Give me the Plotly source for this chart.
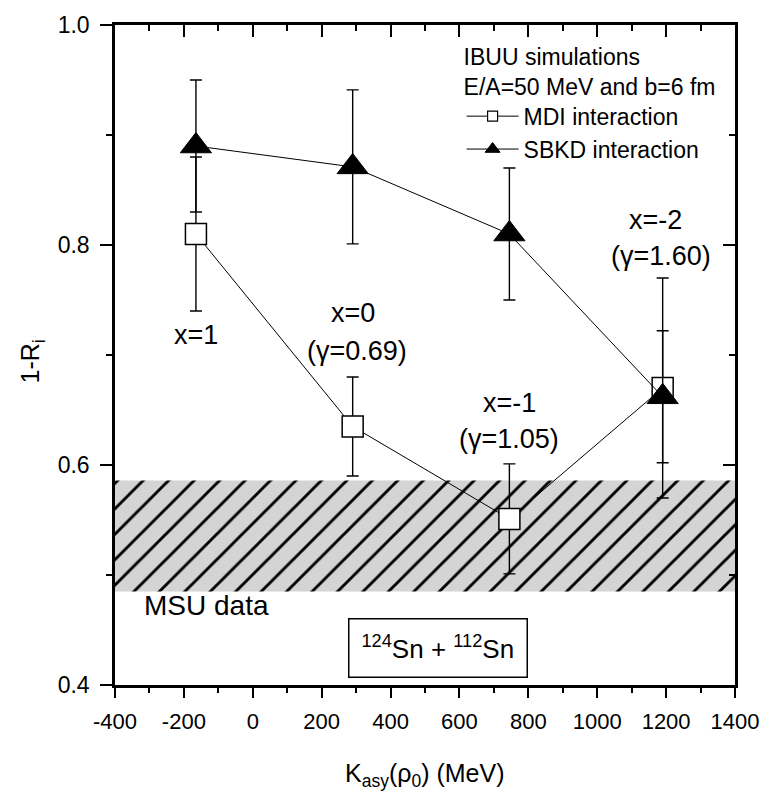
import plotly.graph_objects as go

# K_asy(rho0) in MeV for x = 1, 0, -1, -2
k_asy = [-165, 290, 745, 1190]

# 1 - R_i from IBUU with the two interactions
mdi_vals = [0.81, 0.635, 0.551, 0.67]
mdi_errs = [0.07, 0.045, 0.05, 0.10]
sbkd_vals = [0.89, 0.871, 0.81, 0.662]
sbkd_errs = [0.06, 0.07, 0.06, 0.06]

# MSU measurement band
msu_low = 0.485
msu_high = 0.586

x_range = [-400, 1400]
y_range = [0.4, 1.0]
x_ticks = [-400, -200, 0, 200, 400, 600, 800, 1000, 1200, 1400]
y_ticks = [0.4, 0.6, 0.8, 1.0]

# labels of the x (gamma) parameter next to the points
param_labels = [
    ("x=1", -165, 0.718),
    ("x=0", 290, 0.738),
    ("(\u03b3=0.69)", 302, 0.704),
    ("x=-1", 745, 0.656),
    ("(\u03b3=1.05)", 745, 0.624),
    ("x=-2", 1170, 0.823),
    ("(\u03b3=1.60)", 1185, 0.790),
]

FONT = "Liberation Sans, Arial, sans-serif"

fig = go.Figure()

# hatched MSU band on the base axes
fig.add_trace(go.Scatter(
    x=[x_range[0], x_range[1], x_range[1], x_range[0], x_range[0]],
    y=[msu_low, msu_low, msu_high, msu_high, msu_low],
    mode="lines", line=dict(width=0), fill="toself",
    fillcolor="rgba(0,0,0,0)",
    fillpattern=dict(shape="/", size=18, solidity=0.16,
                     fgcolor="black", bgcolor="#d4d4d4", fillmode="replace"),
    showlegend=False, hoverinfo="skip",
))

fig.add_trace(go.Scatter(
    x=k_asy, y=mdi_vals, xaxis="x2", yaxis="y2",
    mode="lines+markers", name="MDI interaction", showlegend=False,
    line=dict(color="black", width=1),
    marker=dict(symbol="square", size=21, color="white",
                line=dict(color="black", width=1.5)),
    error_y=dict(type="data", array=mdi_errs, color="black",
                 thickness=1.4, width=6),
))

fig.add_trace(go.Scatter(
    x=k_asy, y=sbkd_vals, xaxis="x2", yaxis="y2",
    mode="lines+markers", name="SBKD interaction", showlegend=False,
    line=dict(color="black", width=1),
    marker=dict(symbol="triangle-up", size=27, color="black",
                line=dict(color="black", width=1)),
    error_y=dict(type="data", array=sbkd_errs, color="black",
                 thickness=1.4, width=6),
))

# legend entries with small symbols
fig.add_trace(go.Scatter(
    x=[None], y=[None], xaxis="x2", yaxis="y2",
    mode="lines+markers", name="MDI interaction",
    line=dict(color="black", width=1),
    marker=dict(symbol="square", size=10, color="white",
                line=dict(color="black", width=1.2)),
))
fig.add_trace(go.Scatter(
    x=[None], y=[None], xaxis="x2", yaxis="y2",
    mode="lines+markers", name="SBKD interaction",
    line=dict(color="black", width=1),
    marker=dict(symbol="triangle-up", size=13, color="black",
                line=dict(color="black", width=1)),
))

for text, xv, yv in param_labels:
    fig.add_annotation(x=xv, y=yv, xref="x2", yref="y2", text=text,
                       showarrow=False, font=dict(family=FONT, size=27, color="black"))

fig.add_annotation(x=-323, y=0.4725, xref="x", yref="y", text="MSU data",
                   xanchor="left", showarrow=False,
                   font=dict(family=FONT, size=28, color="black"))

fig.add_annotation(x=538, y=0.434, xref="x", yref="y",
                   text="<sup>124</sup>Sn + <sup>112</sup>Sn",
                   showarrow=False, bordercolor="black", borderwidth=1.5,
                   borderpad=12, bgcolor="white",
                   font=dict(family=FONT, size=26, color="black"))

# axis titles
fig.add_annotation(x=0.5, y=-0.137, xref="paper", yref="paper",
                   xanchor="center", yanchor="middle",
                   text="K<sub>asy</sub>(\u03c1<sub>0</sub>) (MeV)",
                   showarrow=False, font=dict(family=FONT, size=25, color="black"))
fig.add_annotation(x=-0.134, y=0.49, xref="paper", yref="paper",
                   xanchor="center", yanchor="middle",
                   text="1-R<sub>i</sub>", textangle=-90,
                   showarrow=False, font=dict(family=FONT, size=25, color="black"))

axis_common = dict(showgrid=False, zeroline=False, linecolor="black",
                   linewidth=2.5, tickcolor="black", tickwidth=1.5)

fig.update_layout(
    width=771, height=793,
    margin=dict(l=115, r=28, t=23, b=108),
    paper_bgcolor="white", plot_bgcolor="white",
    font=dict(family=FONT, size=22, color="black"),
    xaxis=dict(range=x_range, tickvals=x_ticks,
               ticktext=[str(v) for v in x_ticks],
               ticks="outside", ticklen=10, ticklabelstandoff=5,
               minor=dict(dtick=100, ticks="outside", ticklen=5,
                          tickcolor="black", tickwidth=1.5),
               tickfont=dict(size=22), **axis_common),
    yaxis=dict(range=y_range, tickvals=y_ticks,
               ticktext=["%.1f" % v for v in y_ticks],
               ticks="outside", ticklen=12, ticklabelstandoff=6,
               minor=dict(dtick=0.1, ticks="outside", ticklen=6,
                          tickcolor="black", tickwidth=1.5),
               tickfont=dict(size=23), **axis_common),
    xaxis2=dict(range=x_range, overlaying="x", side="top", anchor="y2",
                tickvals=x_ticks, showticklabels=False,
                ticks="inside", ticklen=12,
                minor=dict(dtick=100, ticks="inside", ticklen=6,
                           tickcolor="black", tickwidth=1.5),
                **axis_common),
    yaxis2=dict(range=y_range, overlaying="y", side="right", anchor="x2",
                tickvals=y_ticks, showticklabels=False,
                ticks="inside", ticklen=12,
                minor=dict(dtick=0.1, ticks="inside", ticklen=6,
                           tickcolor="black", tickwidth=1.5),
                **axis_common),
    showlegend=True,
    legend=dict(x=0.559, y=0.985, xanchor="left", yanchor="top",
                bgcolor="rgba(0,0,0,0)", borderwidth=0,
                font=dict(family=FONT, size=23, color="black"),
                title=dict(text="IBUU simulations<br>E/A=50 MeV and b=6 fm",
                           font=dict(family=FONT, size=23, color="black"),
                           side="top"),
                itemwidth=52, tracegroupgap=0),
)

fig.write_html("out.html")
